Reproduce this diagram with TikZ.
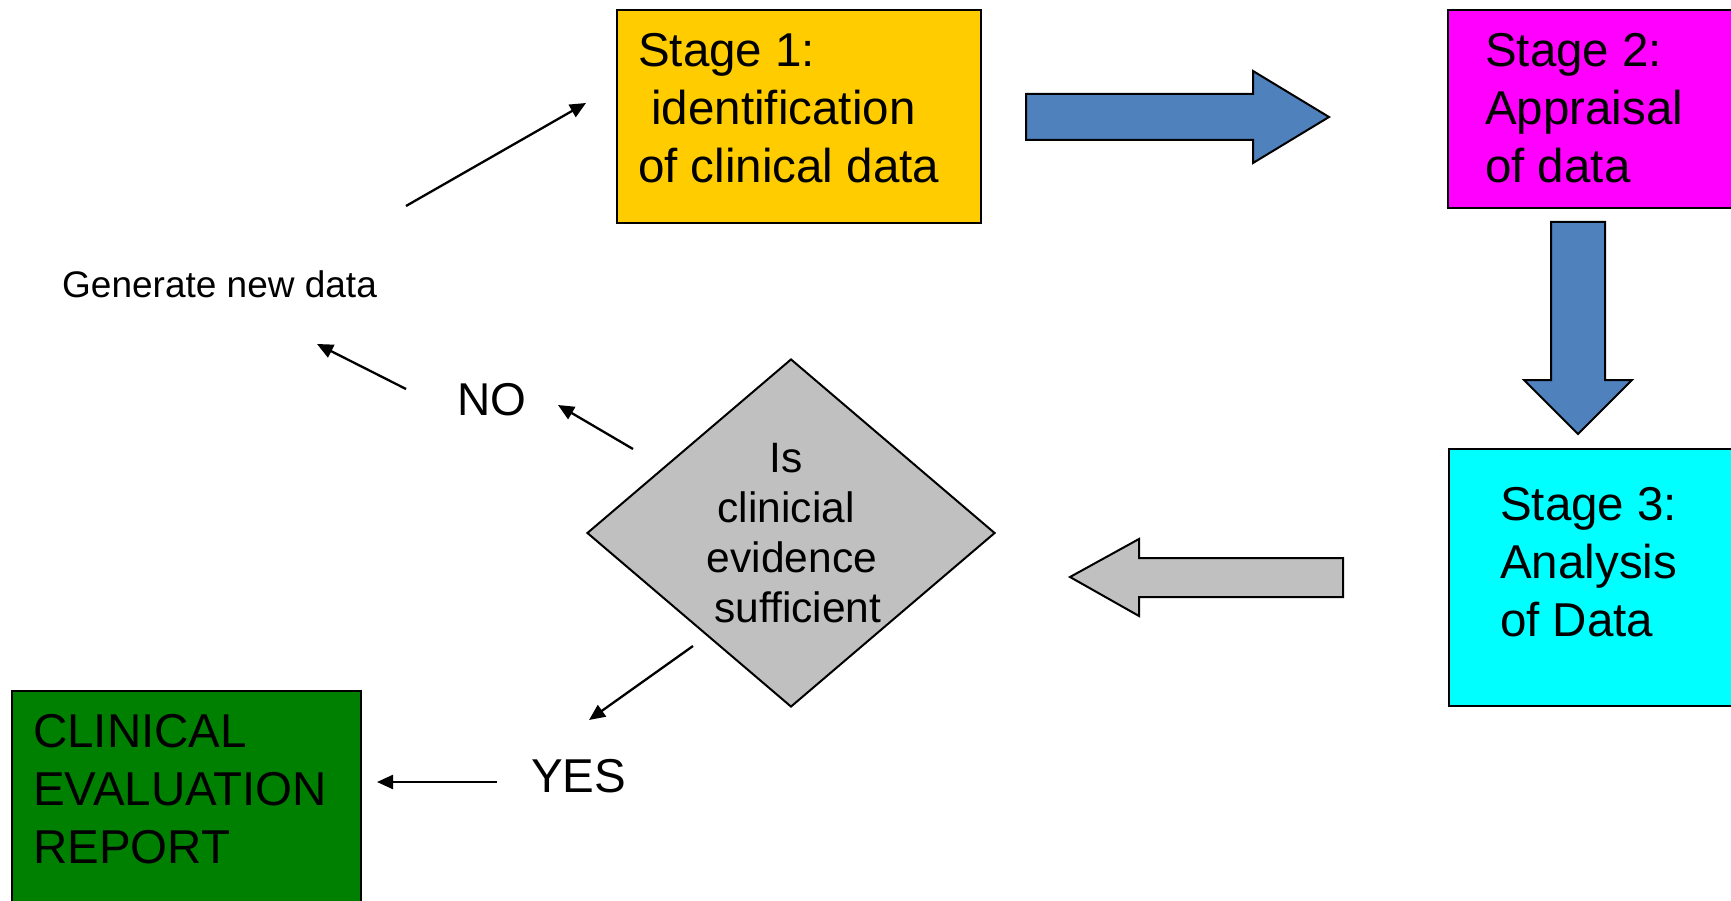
\documentclass[tikz,border=0pt]{standalone}
\usepackage{fontspec}
\setmainfont{Liberation Sans}
\usetikzlibrary{arrows.meta,shapes.geometric}
\definecolor{stageone}{HTML}{FFCC00}
\definecolor{stagetwo}{HTML}{FF00FF}
\definecolor{stagethree}{HTML}{00FFFF}
\definecolor{report}{HTML}{008000}
\definecolor{blockblue}{HTML}{4F81BD}
\definecolor{blockgray}{HTML}{C0C0C0}
\newcommand\leftlines[1]{\vtop{\halign{##\hfil\cr#1\crcr}}}
\newcommand\centerlines[1]{\vtop{\halign{\hfil##\hfil\cr#1\crcr}}}
\begin{document}
\begin{tikzpicture}[x=1pt,y=-1pt,
  box/.style={draw=black, line width=2.2pt, rectangle, inner sep=0pt},
  big/.style={font=\fontsize{47.5}{58}\selectfont, inner sep=0pt, anchor=base west},
  thinarrow/.style={line width=2.3pt, -{Triangle[length=16pt,width=14pt]}},
  block/.style={draw=black, line width=2pt, line join=miter}]
\useasboundingbox (0,0) rectangle (1731,901);
\clip (0,0) rectangle (1731,901);
\fill[white] (0,0) rectangle (1731,901);

% stage boxes
\node[box, fill=stageone, minimum width=364pt, minimum height=213pt] (s1) at (799,116.5) {};
\node[big] (s1t) at (638,67) {\leftlines{Stage 1:\cr\ identification\cr of clinical data}};

\node[box, fill=stagetwo, minimum width=300pt, minimum height=198pt] (s2) at (1598,109) {};
\node[big] (s2t) at (1485,67) {\leftlines{Stage 2:\cr Appraisal\cr of data}};

\node[box, fill=stagethree, minimum width=300pt, minimum height=257pt] (s3) at (1599,577.5) {};
\node[big] (s3t) at (1500,520) {\leftlines{Stage 3:\cr Analysis\cr of Data}};

\node[box, fill=report, minimum width=349pt, minimum height=230pt] (rep) at (186.5,806) {};
\node[big] (rept) at (33,747) {\leftlines{CLINICAL\cr EVALUATION\cr REPORT}};

% decision
\node[diamond, draw=black, line width=2pt, fill=blockgray, minimum width=408pt, minimum height=348pt, inner sep=0pt] (q) at (791,533) {};
\node[font=\fontsize{42.5}{50}\selectfont, inner sep=0pt, anchor=base] (qt) at (792,472) {\centerlines{Is\ \cr clinicial\ \cr evidence\cr\ sufficient}};

% labels
\node[font=\fontsize{46}{55}\selectfont, inner sep=0pt, anchor=base west] (no) at (457,415) {NO};
\node[big] (yes) at (531,792) {YES};
\node[font=\fontsize{37}{44}\selectfont, inner sep=0pt, anchor=base west] (gen) at (62,298) {Generate new data};

% block arrows
\draw[block, fill=blockblue] (1026,94) -- (1253,94) -- (1253,71) -- (1329,117) -- (1253,163) -- (1253,140) -- (1026,140) -- cycle;
\draw[block, fill=blockblue] (1551,222) -- (1605,222) -- (1605,380) -- (1632,380) -- (1578,434) -- (1524,380) -- (1551,380) -- cycle;
\draw[block, fill=blockgray] (1343,558) -- (1139,558) -- (1139,539) -- (1070,577) -- (1139,616) -- (1139,597) -- (1343,597) -- cycle;

% thin arrows
\coordinate (g1) at (406,206);
\coordinate (g2) at (586,103);
\coordinate (n1) at (406,389);
\coordinate (n2) at (317,344);
\coordinate (q1) at (633,449);
\coordinate (q2) at (558,405);
\coordinate (y1) at (693,646);
\coordinate (y2) at (589,720);
\coordinate (r1) at (497,782);
\coordinate (r2) at (377,782);
\draw[thinarrow] (g1) -- (g2);
\draw[thinarrow] (n1) -- (n2);
\draw[thinarrow] (q1) -- (q2);
\draw[thinarrow] (y1) -- (y2);
\draw[thinarrow] (r1) -- (r2);
\end{tikzpicture}
\end{document}
